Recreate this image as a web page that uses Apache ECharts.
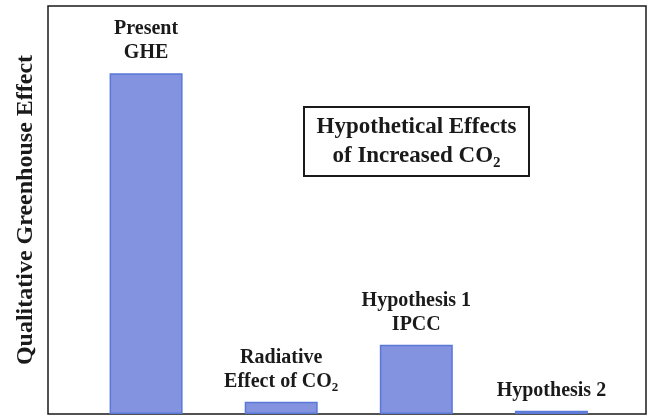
<!DOCTYPE html>
<html>
<head>
<meta charset="utf-8">
<script src="https://cdn.jsdelivr.net/npm/echarts@6/dist/echarts.min.js"></script>
<style>
  html, body { margin: 0; padding: 0; background: #fff; }
  #chart { width: 654px; height: 417px; }
</style>
</head>
<body>
<div id="chart"></div>
<script>
// qualitative heights (axis runs 0..100)
const positions = [0, 1, 2, 3];
const values = [83.5, 3, 17, 0.8];
const barLabels = [
  "{b|Present}\n{b|GHE}",
  "{b|Radiative}\n{b|Effect of CO}{sub|2}",
  "{b|Hypothesis 1}\n{b|IPCC}",
  "{b|Hypothesis 2}"
];
const yName = "Qualitative Greenhouse Effect";
const boxText = "{t|Hypothetical Effects}\n{t|of Increased CO}{tsub|2}";

const serif = "'Liberation Serif', 'DejaVu Serif', serif";
const ink = "#1a1a1a";

const chart = echarts.init(document.getElementById("chart"));

chart.setOption({
  animation: false,
  graphic: [
    {
      type: "rect",
      shape: { x: 304, y: 107, width: 225, height: 69 },
      style: { fill: "#fff", stroke: ink, lineWidth: 2 },
      z: 10
    },
    {
      type: "text",
      x: 416.5,
      y: 141.5,
      z: 11,
      style: {
        text: boxText,
        align: "center",
        verticalAlign: "middle",
        rich: {
          t: { fontFamily: serif, fontWeight: "bold", fontSize: 23, fill: ink, lineHeight: 29 },
          tsub: { fontFamily: serif, fontWeight: "bold", fontSize: 15, fill: ink, lineHeight: 29, verticalAlign: "bottom", padding: [12, 0, 0, 0] }
        }
      }
    }
  ],
  grid: {
    left: 48, right: 8, top: 6, bottom: 3,
    show: true,
    borderColor: ink,
    borderWidth: 1.5
  },
  xAxis: {
    type: "value",
    min: -0.726,
    max: 3.7,
    axisLine: { show: false },
    axisTick: { show: false },
    axisLabel: { show: false },
    splitLine: { show: false }
  },
  yAxis: {
    type: "value",
    min: 0,
    max: 100,
    name: yName,
    nameLocation: "middle",
    nameGap: 10,
    nameTextStyle: { fontFamily: serif, fontWeight: "bold", fontSize: 24, color: ink },
    axisLine: { show: false },
    axisTick: { show: false },
    axisLabel: { show: false },
    splitLine: { show: false }
  },
  series: [{
    type: "bar",
    barWidth: 73,
    data: positions.map((p, i) => ({
      value: [p, values[i]],
      label: { formatter: barLabels[i] }
    })),
    itemStyle: { color: "#8393e0", borderColor: "#5a78d8", borderWidth: 1.5 },
    label: {
      show: true,
      position: "top",
      distance: 8,
      align: "center",
      rich: {
        b: { fontFamily: serif, fontWeight: "bold", fontSize: 20, color: ink, lineHeight: 24 },
        sub: { fontFamily: serif, fontWeight: "bold", fontSize: 13, color: ink, lineHeight: 24, verticalAlign: "bottom", padding: [9, 0, 0, 0] }
      }
    }
  }]
});
</script>
</body>
</html>
